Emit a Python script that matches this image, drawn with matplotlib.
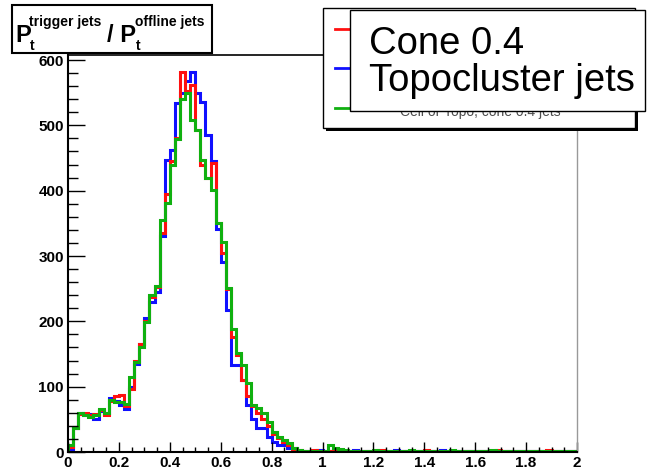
import numpy as np
import matplotlib
matplotlib.use("Agg")
import matplotlib.pyplot as plt
from matplotlib.patches import Rectangle
from matplotlib.ticker import MultipleLocator

plt.rcParams['font.family'] = ['Liberation Sans', 'DejaVu Sans']

# histogram: 100 bins from 0 to 2
edges = np.linspace(0, 2, 101)

red = [8, 37, 58, 60, 57, 58, 65, 57, 78, 86,
       87, 70, 96, 140, 165, 200, 238, 252, 335, 395,
       445, 480, 582, 552, 562, 493, 440, 420, 442, 350,
       304, 250, 176, 148, 110, 85, 70, 59, 50, 40,
       28, 22, 16, 11, 5, 3, 2, 1, 3, 1,
       2, 1, 3, 1, 2, 1, 1, 2, 1, 2,
       1, 3, 1, 1, 2, 1, 1, 2, 1, 1,
       3, 1, 1, 2, 1, 1, 2, 1, 1, 1,
       2, 1, 1, 1, 3, 1, 1, 2, 1, 1,
       1, 2, 1, 1, 3, 1, 2, 1, 1, 1]

blue = [5, 36, 60, 57, 58, 50, 62, 60, 83, 78,
        72, 66, 100, 135, 165, 205, 230, 245, 330, 447,
        462, 534, 549, 568, 581, 550, 536, 485, 445, 341,
        291, 217, 133, 133, 110, 72, 51, 36, 36, 23,
        16, 11, 11, 6, 6, 2, 1, 2, 1, 3,
        1, 2, 1, 1, 2, 1, 3, 1, 1, 2,
        1, 1, 2, 1, 3, 1, 1, 2, 1, 1,
        2, 1, 1, 3, 1, 2, 1, 1, 2, 1,
        1, 1, 2, 1, 1, 2, 1, 1, 1, 2,
        1, 1, 1, 2, 1, 1, 1, 2, 1, 1]

green = [10, 36, 59, 56, 54, 56, 66, 59, 80, 76,
         77, 74, 115, 138, 161, 199, 240, 254, 355, 381,
         440, 479, 540, 549, 508, 493, 447, 419, 401, 350,
         322, 251, 189, 151, 133, 105, 72, 67, 59, 46,
         31, 23, 18, 14, 6, 3, 1, 1, 2, 1,
         2, 10, 6, 5, 3, 2, 2, 1, 2, 1,
         3, 1, 2, 1, 1, 2, 1, 3, 1, 2,
         1, 1, 2, 1, 1, 3, 2, 1, 2, 1,
         1, 2, 1, 3, 1, 1, 2, 1, 1, 2,
         1, 1, 2, 1, 1, 1, 2, 1, 1, 1]

x_ticks = [0, 0.2, 0.4, 0.6, 0.8, 1, 1.2, 1.4, 1.6, 1.8, 2]
x_labels = ['0', '0.2', '0.4', '0.6', '0.8', '1', '1.2', '1.4', '1.6', '1.8', '2']
y_ticks = [0, 100, 200, 300, 400, 500, 600]
y_labels = ['0', '100', '200', '300', '400', '500', '600']

W, H = 647, 474
def fx(px):
    return px / W
def fy(py):
    return 1 - py / H

fig = plt.figure(figsize=(W / 100, H / 100), dpi=100)
ax = fig.add_axes([fx(68), fy(452), (577 - 68) / W, (452 - 55) / H])

ax.stairs(blue, edges, color='#1010ff', lw=2.2)
ax.stairs(red, edges, color='#ff1010', lw=2.2)
ax.stairs(green, edges, color='#10b010', lw=2.2)

ax.set_xlim(0, 2)
ax.set_ylim(0, 607.7)
ax.set_xticks(x_ticks)
ax.set_xticklabels(x_labels, fontsize=11, fontweight='bold')
ax.set_yticks(y_ticks)
ax.set_yticklabels(y_labels, fontsize=11, fontweight='bold')
ax.xaxis.set_minor_locator(MultipleLocator(0.05))
ax.yaxis.set_minor_locator(MultipleLocator(20))
ax.tick_params(axis='x', which='major', direction='in', length=7, width=1, pad=3)
ax.tick_params(axis='x', which='minor', direction='in', length=3.5, width=1)
ax.tick_params(axis='y', which='major', direction='in', length=12, width=1, pad=3)
ax.tick_params(axis='y', which='minor', direction='in', length=7, width=1)

ax.spines['left'].set_linewidth(1.5)
ax.spines['bottom'].set_linewidth(1.5)
ax.spines['top'].set_linewidth(1.2)
ax.spines['right'].set_color('0.6')
ax.spines['right'].set_linewidth(1)

# title box: P_t^{trigger jets} / P_t^{offline jets}
fig.add_artist(Rectangle((fx(12), fy(53)), (212 - 12) / W, (53 - 5) / H,
                         transform=fig.transFigure, facecolor='white',
                         edgecolor='black', lw=1.5, zorder=5))
tkw = dict(ha='left', va='baseline', fontweight='bold', zorder=6)
fig.text(fx(15), fy(42), 'P', fontsize=17, **tkw)
fig.text(fx(29), fy(26), 'trigger jets', fontsize=10, **tkw)
fig.text(fx(30), fy(50), 't', fontsize=10, **tkw)
fig.text(fx(107), fy(42), '/ P', fontsize=17, **tkw)
fig.text(fx(135), fy(26), 'offline jets', fontsize=10, **tkw)
fig.text(fx(136), fy(50), 't', fontsize=10, **tkw)

# legend box with shadow
fig.add_artist(Rectangle((fx(326), fy(131)), (635 - 323) / W, (128 - 8) / H,
                         transform=fig.transFigure, facecolor='black',
                         edgecolor='black', lw=0, zorder=7))
fig.add_artist(Rectangle((fx(323), fy(128)), (635 - 323) / W, (128 - 8) / H,
                         transform=fig.transFigure, facecolor='white',
                         edgecolor='black', lw=1, zorder=8))
for col, yy in [('#ff1010', 29), ('#1010ff', 68), ('#10b010', 108)]:
    fig.add_artist(plt.Line2D([fx(335), fx(350)], [fy(yy), fy(yy)],
                              transform=fig.transFigure, color=col, lw=2, zorder=9))
fig.text(fx(400), fy(116), 'Cell or Topo, cone 0.4 jets', fontsize=10,
         color='0.3', ha='left', va='baseline', zorder=9)

# overlay label box
fig.add_artist(Rectangle((fx(350), fy(111)), (645 - 350) / W, (111 - 10) / H,
                         transform=fig.transFigure, facecolor='white',
                         edgecolor='black', lw=1, zorder=10))
fig.text(fx(369), fy(54), 'Cone 0.4', fontsize=27.5, ha='left',
         va='baseline', zorder=11)
fig.text(fx(369), fy(91), 'Topocluster jets', fontsize=27.5, ha='left',
         va='baseline', zorder=11)

fig.savefig('out.png', dpi=100)
